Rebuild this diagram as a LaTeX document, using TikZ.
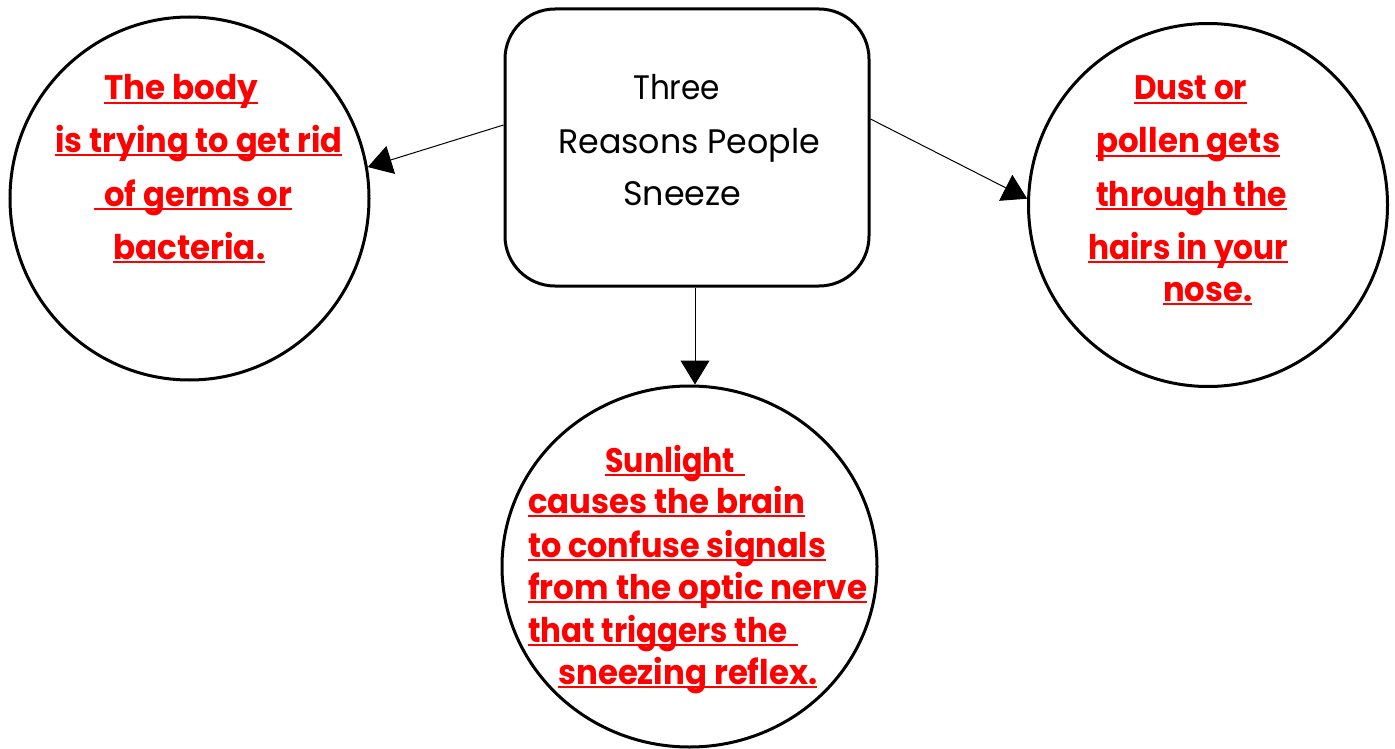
\documentclass[tikz,border=0pt]{standalone}
\usepackage{fontspec}
\setmainfont{Poppins}
\usepackage{graphicx}
\usetikzlibrary{shapes.geometric,arrows.meta}
\newcommand\fitw[2]{\resizebox{#1pt}{\height}{#2}}
\tikzset{
  bubble/.style={draw=black, line width=3pt, ellipse, inner sep=0pt},
  titlebox/.style={draw=black, line width=3pt, rounded corners=50pt, inner sep=0pt},
  conn/.style={draw=black, line width=1pt, -{Triangle[length=24pt,width=29pt]}},
  blackline/.style={anchor=base west, inner sep=0pt, text=black, font=\fontsize{34}{34}\selectfont},
  redline/.style={anchor=base west, inner sep=0pt, text=red, font=\bfseries\fontsize{34}{34}\selectfont},
  ul/.style={draw=red, line width=2pt}
}
\begin{document}
\begin{tikzpicture}[x=1pt,y=-1pt]
\useasboundingbox (0,0) rectangle (1395,749);
\fill[white] (0,0) rectangle (1395,749);

% shapes
\node[titlebox, minimum width=364pt, minimum height=277pt] (box) at (687,147.5) {};
\node[bubble, minimum width=359pt, minimum height=363pt] (lc) at (189.5,198.5) {};
\node[bubble, minimum width=359pt, minimum height=363pt] (rc) at (1208,205) {};
\node[bubble, minimum width=375pt, minimum height=361pt] (bc) at (689.5,566.5) {};

% connectors
\draw[conn] ([yshift=22.5pt]box.west) -- (lc.10);
\draw[conn] ([yshift=28.5pt]box.east) -- (rc.178);
\draw[conn] ([xshift=8pt]box.south) -- ([xshift=5.5pt]bc.north);

% title text
\node[blackline] (t1) at (633,100) {\fitw{87}{Three}};
\node[blackline] (t2) at (558,154) {\fitw{262}{Reasons People}};
\node[blackline] (t3) at (623,205) {\fitw{118}{Sneeze}};

% left circle text
\node[redline] (l1) at (104,100) {\fitw{154}{The body}};
\node[redline] (l2) at (55,152) {\fitw{287}{is trying to get rid}};
\node[redline] (l3) at (104,206) {\fitw{188}{of germs or}};
\node[redline] (l4) at (113,259) {\fitw{152}{bacteria.}};
\draw[ul] ([yshift=-3pt]l1.base west) -- ([yshift=-3pt]l1.base east);
\draw[ul] ([yshift=-3pt]l2.base west) -- ([yshift=-3pt]l2.base east);
\draw[ul] ([xshift=-10pt,yshift=-3pt]l3.base west) -- ([yshift=-3pt]l3.base east);
\draw[ul] ([yshift=-3pt]l4.base west) -- ([yshift=-3pt]l4.base east);

% right circle text
\node[redline] (r1) at (1134,100) {\fitw{113}{Dust or}};
\node[redline] (r2) at (1096,153) {\fitw{184}{pollen gets}};
\node[redline] (r3) at (1096,206) {\fitw{191}{through the}};
\node[redline] (r4) at (1088,259) {\fitw{200}{hairs in your}};
\node[redline] (r5) at (1163,301) {\fitw{89}{nose.}};
\foreach \n in {r1,r2,r3,r4,r5}
  \draw[ul] ([yshift=-3pt]\n.base west) -- ([yshift=-3pt]\n.base east);

% bottom circle text
\node[redline] (b1) at (605,472) {\fitw{130}{Sunlight}};
\node[redline] (b2) at (528,513) {\fitw{277}{causes the brain}};
\node[redline] (b3) at (528,557) {\fitw{298}{to confuse signals}};
\node[redline] (b4) at (528,599) {\fitw{339}{from the optic nerve}};
\node[redline] (b5) at (528,642) {\fitw{259}{that triggers the}};
\node[redline] (b6) at (558,684) {\fitw{259}{sneezing reflex.}};
\draw[ul] ([yshift=-3pt]b1.base west) -- ([xshift=10pt,yshift=-3pt]b1.base east);
\foreach \n in {b2,b3,b4,b6}
  \draw[ul] ([yshift=-3pt]\n.base west) -- ([yshift=-3pt]\n.base east);
\draw[ul] ([yshift=-3pt]b5.base west) -- ([xshift=11pt,yshift=-3pt]b5.base east);
\end{tikzpicture}
\end{document}
